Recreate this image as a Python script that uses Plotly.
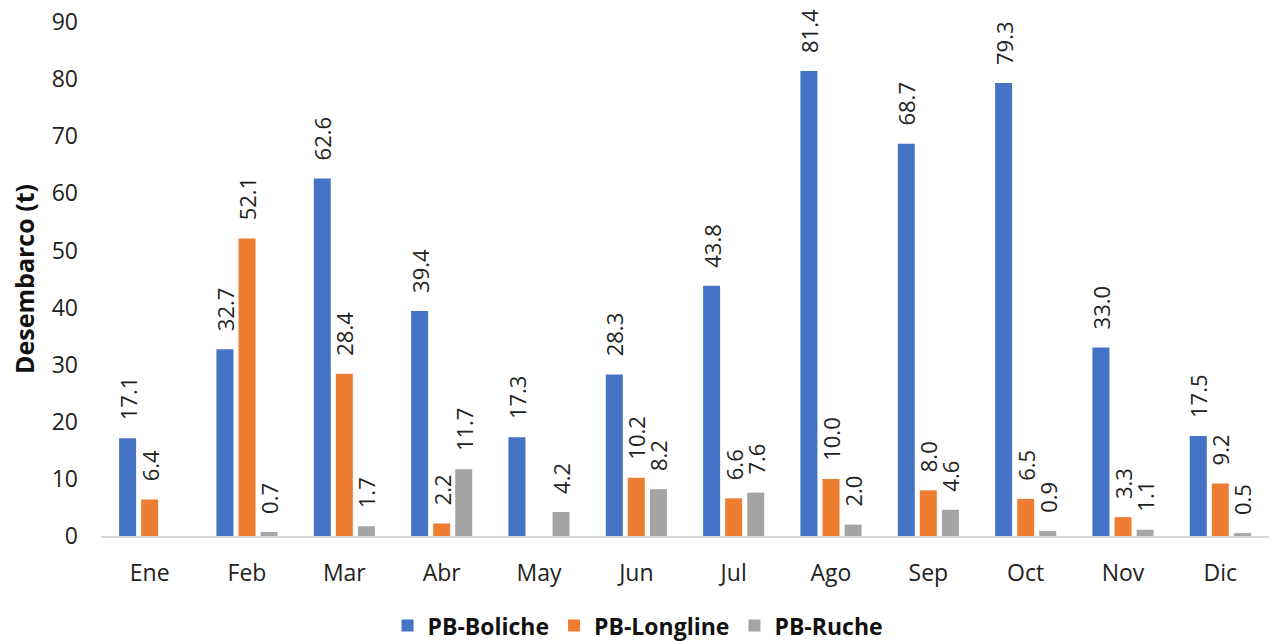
import plotly.graph_objects as go

months = ["Ene", "Feb", "Mar", "Abr", "May", "Jun", "Jul", "Ago", "Sep", "Oct", "Nov", "Dic"]
boliche = [17.1, 32.7, 62.6, 39.4, 17.3, 28.3, 43.8, 81.4, 68.7, 79.3, 33.0, 17.5]
longline = [6.4, 52.1, 28.4, 2.2, None, 10.2, 6.6, 10.0, 8.0, 6.5, 3.3, 9.2]
ruche = [None, 0.7, 1.7, 11.7, 4.2, 8.2, 7.6, 2.0, 4.6, 0.9, 1.1, 0.5]

series = [
    ("PB-Boliche", boliche, "#4472C4"),
    ("PB-Longline", longline, "#ED7D31"),
    ("PB-Ruche", ruche, "#A5A5A5"),
]

FONT = "Open Sans"
PAD = "\u00a0\u00a0\u2009"  # gap between bar top and its rotated label

fig = go.Figure()
for name, vals, color in series:
    fig.add_trace(go.Bar(
        x=months,
        y=vals,
        name=name,
        marker=dict(color=color, line=dict(width=0)),
        text=[PAD + f"{v:.1f}" if v is not None else "" for v in vals],
        textposition="outside",
        textangle=-90,
        constraintext="none",
        textfont=dict(family=FONT, size=22, color="#222222"),
        cliponaxis=False,
    ))

fig.update_layout(
    width=1276,
    height=641,
    barmode="group",
    bargap=0.32,
    bargroupgap=0.23,
    plot_bgcolor="white",
    paper_bgcolor="white",
    margin=dict(l=101, r=7, t=22, b=105, autoexpand=False),
    font=dict(family=FONT, size=23, color="#222222"),
    xaxis=dict(
        showline=True,
        linecolor="#D9D9D9",
        linewidth=2,
        ticks="",
        tickfont=dict(family=FONT, size=23, color="#222222"),
        ticklabelstandoff=15,
    ),
    yaxis=dict(
        range=[0, 90],
        dtick=10,
        showgrid=False,
        zeroline=False,
        showline=False,
        tickfont=dict(family=FONT, size=23, color="#222222"),
        ticklabelstandoff=22,
        title=dict(text="<b>Desembarco (t)</b>", font=dict(family=FONT, size=25, color="#111111"), standoff=9),
    ),
    legend=dict(
        orientation="h",
        xref="container",
        x=0.5,
        xanchor="center",
        yref="container",
        y=0.024,
        yanchor="middle",
        font=dict(family=FONT, size=23, color="#111111", weight="bold"),
        itemwidth=30,
        traceorder="normal",
    ),
)

fig.write_html("out.html")
